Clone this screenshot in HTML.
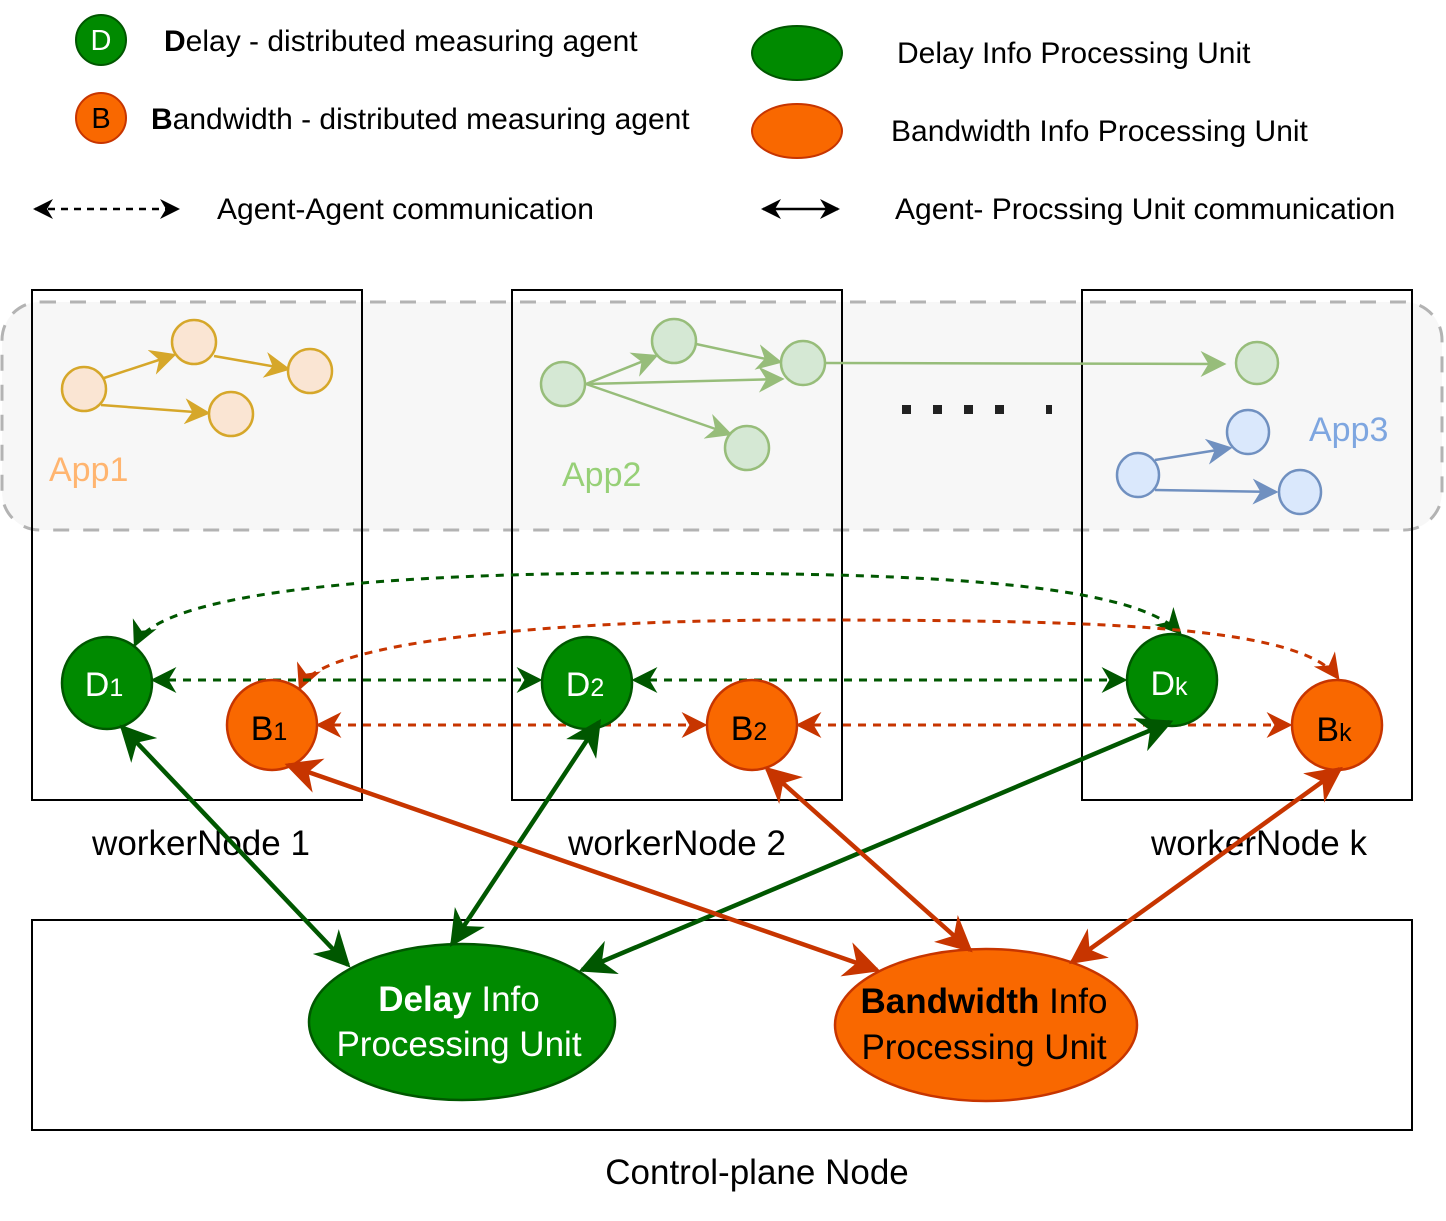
<!DOCTYPE html>
<html><head><meta charset="utf-8"><style>body{margin:0;background:#fff}svg{display:block}text{font-family:"Liberation Sans",sans-serif}</style></head><body>
<svg width="1446" height="1221" viewBox="0 0 1446 1221" xmlns="http://www.w3.org/2000/svg">
<defs>
<marker id="ak" viewBox="0 0 10 10" refX="9" refY="5" markerWidth="20" markerHeight="20" orient="auto-start-reverse" markerUnits="userSpaceOnUse"><path d="M0,0L10,5L0,10L3,5z" fill="#000"/></marker>
<marker id="dg" viewBox="0 0 10 10" refX="9" refY="5" markerWidth="26" markerHeight="26" orient="auto-start-reverse" markerUnits="userSpaceOnUse"><path d="M0,0L10,5L0,10L3,5z" fill="#005700"/></marker>
<marker id="do" viewBox="0 0 10 10" refX="9" refY="5" markerWidth="26" markerHeight="26" orient="auto-start-reverse" markerUnits="userSpaceOnUse"><path d="M0,0L10,5L0,10L3,5z" fill="#c73500"/></marker>
<marker id="tg" viewBox="0 0 10 10" refX="9" refY="5" markerWidth="36" markerHeight="36" orient="auto-start-reverse" markerUnits="userSpaceOnUse"><path d="M0,0L10,5L0,10L3,5z" fill="#005700"/></marker>
<marker id="to" viewBox="0 0 10 10" refX="9" refY="5" markerWidth="36" markerHeight="36" orient="auto-start-reverse" markerUnits="userSpaceOnUse"><path d="M0,0L10,5L0,10L3,5z" fill="#c73500"/></marker>
<marker id="ay" viewBox="0 0 10 10" refX="9" refY="5" markerWidth="26" markerHeight="26" orient="auto" markerUnits="userSpaceOnUse"><path d="M0,0L10,5L0,10L3,5z" fill="#d6a72a"/></marker>
<marker id="al" viewBox="0 0 10 10" refX="9" refY="5" markerWidth="26" markerHeight="26" orient="auto" markerUnits="userSpaceOnUse"><path d="M0,0L10,5L0,10L3,5z" fill="#97bd7a"/></marker>
<marker id="ab" viewBox="0 0 10 10" refX="9" refY="5" markerWidth="26" markerHeight="26" orient="auto" markerUnits="userSpaceOnUse"><path d="M0,0L10,5L0,10L3,5z" fill="#7090c0"/></marker>
</defs>
<!-- legend -->
<circle cx="101" cy="40" r="25" fill="#008a00" stroke="#005700" stroke-width="2"/>
<text x="101" y="50" font-size="29" fill="#fff" text-anchor="middle">D</text>
<text x="164" y="51" font-size="30"><tspan font-weight="bold">D</tspan>elay - distributed measuring agent</text>
<circle cx="101" cy="118" r="25" fill="#f96800" stroke="#c73500" stroke-width="2"/>
<text x="101" y="128" font-size="29" fill="#000" text-anchor="middle">B</text>
<text x="151" y="129" font-size="30"><tspan font-weight="bold">B</tspan>andwidth - distributed measuring agent</text>
<ellipse cx="797" cy="53" rx="45" ry="27" fill="#008a00" stroke="#005700" stroke-width="2"/>
<text x="897" y="63" font-size="30">Delay Info Processing Unit</text>
<ellipse cx="797" cy="131" rx="45" ry="27" fill="#f96800" stroke="#c73500" stroke-width="2"/>
<text x="891" y="141" font-size="30">Bandwidth Info Processing Unit</text>
<line x1="35" y1="209" x2="178" y2="209" stroke="#000" stroke-width="2.5" stroke-dasharray="7,6" marker-start="url(#ak)" marker-end="url(#ak)"/>
<text x="217" y="219" font-size="30">Agent-Agent communication</text>
<line x1="763" y1="209" x2="838" y2="209" stroke="#000" stroke-width="2.5" marker-start="url(#ak)" marker-end="url(#ak)"/>
<text x="895" y="219" font-size="30">Agent- Procssing Unit communication</text>
<!-- app area -->
<rect x="2" y="302" width="1440" height="228" rx="38" fill="#f7f7f7" stroke="#b3b3b3" stroke-width="3" stroke-dasharray="16,14"/>
<rect x="32" y="290" width="330" height="510" fill="none" stroke="#000" stroke-width="2"/>
<rect x="512" y="290" width="330" height="510" fill="none" stroke="#000" stroke-width="2"/>
<rect x="1082" y="290" width="330" height="510" fill="none" stroke="#000" stroke-width="2"/>
<!-- app1 -->
<g stroke="#d6a72a" stroke-width="2.5" fill="#fae5d3">
<line x1="104" y1="378" x2="174" y2="355" marker-end="url(#ay)"/>
<line x1="214" y1="356" x2="288" y2="369" marker-end="url(#ay)"/>
<line x1="101" y1="405" x2="208" y2="413" marker-end="url(#ay)"/>
<ellipse cx="84" cy="389" rx="22" ry="22"/><ellipse cx="194" cy="342" rx="22" ry="22"/><ellipse cx="310" cy="371" rx="22" ry="22"/><ellipse cx="231" cy="414" rx="22" ry="22"/>
</g>
<text x="49" y="481" font-size="34" fill="#ffb570">App1</text>
<!-- app2 -->
<g stroke="#97bd7a" stroke-width="2.5" fill="#d5e8d4">
<line x1="586" y1="384" x2="656" y2="356" marker-end="url(#al)"/>
<line x1="696" y1="344" x2="780" y2="362" marker-end="url(#al)"/>
<line x1="586" y1="384" x2="782" y2="379" marker-end="url(#al)"/>
<line x1="586" y1="384" x2="730" y2="434" marker-end="url(#al)"/>
<line x1="825" y1="363" x2="1224" y2="364" marker-end="url(#al)"/>
<ellipse cx="563" cy="384" rx="22" ry="22"/><ellipse cx="674" cy="341" rx="22" ry="22"/><ellipse cx="803" cy="363" rx="22" ry="22"/><ellipse cx="747" cy="448" rx="22" ry="22"/><ellipse cx="1257" cy="363" rx="21" ry="21"/>
</g>
<text x="562" y="486" font-size="34" fill="#97d077">App2</text>
<!-- app3 -->
<g stroke="#7090c0" stroke-width="2.5" fill="#dae8fc">
<line x1="1155" y1="460" x2="1230" y2="448" marker-end="url(#ab)"/>
<line x1="1155" y1="490" x2="1276" y2="492" marker-end="url(#ab)"/>
<ellipse cx="1138" cy="475" rx="21" ry="22"/><ellipse cx="1248" cy="432" rx="21" ry="22"/><ellipse cx="1300" cy="492" rx="21" ry="22"/>
</g>
<text x="1309" y="441" font-size="34" fill="#7ea6e0">App3</text>
<g fill="#222"><rect x="902" y="405" width="9" height="9"/><rect x="933" y="405" width="9" height="9"/><rect x="964" y="405" width="9" height="9"/><rect x="995" y="405" width="9" height="9"/><rect x="1017" y="405" width="0" height="0"/><rect x="1046" y="405" width="6" height="9"/></g>
<!-- dashed comms -->
<g stroke-width="3" stroke-dasharray="8,7" fill="none">
<path d="M135,645 C160,590 400,573 650,573 C900,573 1130,580 1180,633" stroke="#005700" marker-start="url(#dg)" marker-end="url(#dg)"/>
<path d="M300,688 C320,640 560,620 800,620 C1100,620 1300,625 1338,678" stroke="#c73500" marker-start="url(#do)" marker-end="url(#do)"/>
<line x1="153" y1="680" x2="540" y2="680" stroke="#005700" marker-start="url(#dg)" marker-end="url(#dg)"/>
<line x1="634" y1="680" x2="1125" y2="680" stroke="#005700" marker-start="url(#dg)" marker-end="url(#dg)"/>
<line x1="318" y1="725" x2="705" y2="725" stroke="#c73500" marker-start="url(#do)" marker-end="url(#do)"/>
<line x1="798" y1="725" x2="1290" y2="725" stroke="#c73500" marker-start="url(#do)" marker-end="url(#do)"/>
</g>
<!-- agents -->
<g stroke-width="2.5">
<ellipse cx="107" cy="683" rx="45" ry="46" fill="#008a00" stroke="#005700"/>
<ellipse cx="272" cy="725" rx="45" ry="45" fill="#f96800" stroke="#c73500"/>
<ellipse cx="587" cy="683" rx="45" ry="46" fill="#008a00" stroke="#005700"/>
<ellipse cx="752" cy="725" rx="45" ry="45" fill="#f96800" stroke="#c73500"/>
<ellipse cx="1172" cy="680" rx="45" ry="46" fill="#008a00" stroke="#005700"/>
<ellipse cx="1337" cy="725" rx="45" ry="45" fill="#f96800" stroke="#c73500"/>
</g>
<g font-size="34" text-anchor="middle">
<text x="104" y="696" fill="#fff">D<tspan font-size="25">1</tspan></text>
<text x="269" y="740">B<tspan font-size="25">1</tspan></text>
<text x="585" y="696" fill="#fff">D<tspan font-size="25">2</tspan></text>
<text x="749" y="740">B<tspan font-size="25">2</tspan></text>
<text x="1169" y="695" fill="#fff">D<tspan font-size="25">k</tspan></text>
<text x="1334" y="741">B<tspan font-size="25">k</tspan></text>
</g>
<g font-size="35" text-anchor="middle">
<text x="201" y="855">workerNode 1</text>
<text x="677" y="855">workerNode 2</text>
<text x="1259" y="855">workerNode k</text>
<text x="757" y="1184">Control-plane Node</text>
</g>
<!-- control plane -->
<rect x="32" y="920" width="1380" height="210" fill="none" stroke="#000" stroke-width="2"/>
<ellipse cx="462" cy="1022" rx="153" ry="78" fill="#008a00" stroke="#005700" stroke-width="2.5"/>
<ellipse cx="986" cy="1025" rx="151" ry="76" fill="#f96800" stroke="#c73500" stroke-width="2.5"/>
<text x="459" y="1011" font-size="35" fill="#fff" text-anchor="middle"><tspan font-weight="bold">Delay</tspan> Info</text>
<text x="459" y="1056" font-size="35" fill="#fff" text-anchor="middle">Processing Unit</text>
<text x="984" y="1013" font-size="35" text-anchor="middle"><tspan font-weight="bold">Bandwidth</tspan> Info</text>
<text x="984" y="1059" font-size="35" text-anchor="middle">Processing Unit</text>
<!-- thick arrows -->
<g stroke-width="4.5" fill="none">
<line x1="122" y1="727" x2="348" y2="965" stroke="#005700" marker-start="url(#tg)" marker-end="url(#tg)"/>
<line x1="599" y1="722" x2="452" y2="944" stroke="#005700" marker-start="url(#tg)" marker-end="url(#tg)"/>
<line x1="1170" y1="722" x2="582" y2="970" stroke="#005700" marker-start="url(#tg)" marker-end="url(#tg)"/>
<line x1="288" y1="765" x2="877" y2="970" stroke="#c73500" marker-start="url(#to)" marker-end="url(#to)"/>
<line x1="767" y1="769" x2="970" y2="950" stroke="#c73500" marker-start="url(#to)" marker-end="url(#to)"/>
<line x1="1340" y1="769" x2="1072" y2="962" stroke="#c73500" marker-start="url(#to)" marker-end="url(#to)"/>
</g>
</svg>
</body></html>
